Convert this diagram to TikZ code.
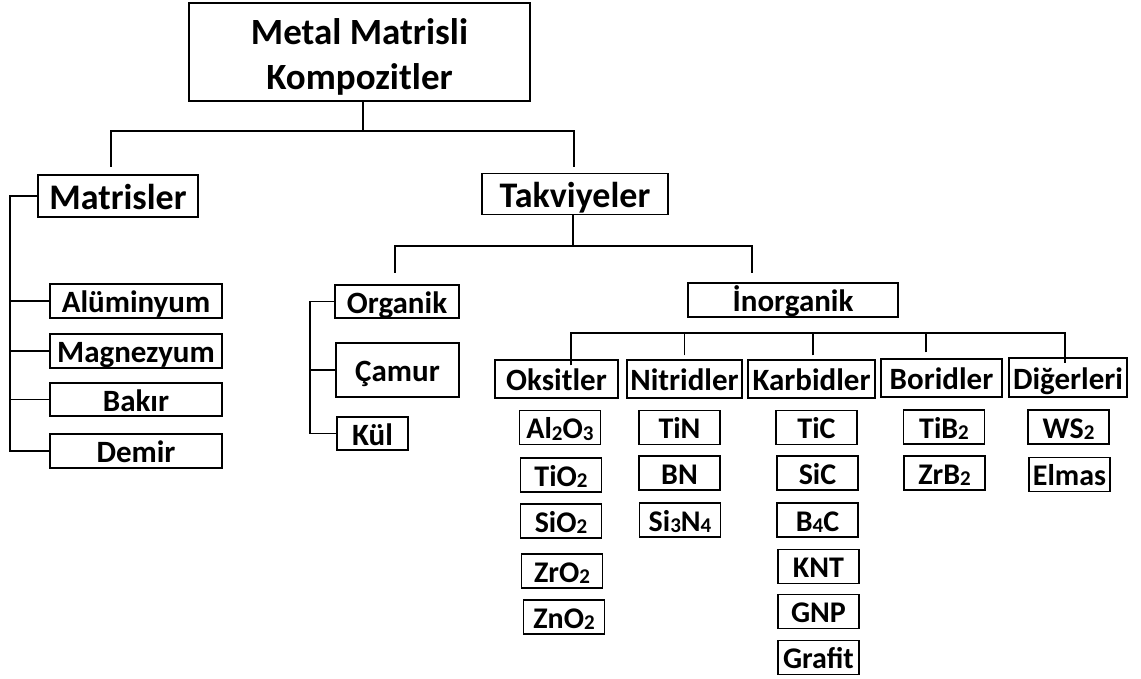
\documentclass[tikz,border=0pt]{standalone}
\usepackage{fontspec}
\setmainfont{Carlito}
\newcommand{\sbs}[1]{\raisebox{-0.1ex}{\fontsize{21}{21}\selectfont #1}}
\begin{document}
\begin{tikzpicture}[x=1pt,y=-1pt,
  box/.style={draw,line width=1.2pt,inner sep=0pt,align=center,text height=23pt,text depth=0pt,font=\bfseries\fontsize{31}{31}\selectfont},
  bigbox/.style={box,text height=27pt,font=\bfseries\fontsize{36}{36}\selectfont},
  item/.style={box,minimum width=81,minimum height=34,text height=22.5pt,font=\bfseries\fontsize{30}{30}\selectfont},
  link/.style={line width=1.3pt}]
\useasboundingbox (0,0) rectangle (1141,679);

% top levels
\node[draw,line width=1.2pt,inner sep=0pt,align=center,font=\bfseries\fontsize{37}{45}\selectfont,
  minimum width=341,minimum height=98] (root) at (359.5,52) {\rule{0pt}{35pt}Metal Matrisli\\Kompozitler};
\node[bigbox,minimum width=160,minimum height=42] (matris) at (118,196) {Matrisler};
\node[bigbox,minimum width=186,minimum height=41] (takv) at (575,194) {Takviyeler};

% matrices
\node[box,minimum width=172,minimum height=34] (alu) at (136,301) {Alüminyum};
\node[box,minimum width=172,minimum height=34] (mag) at (136,351) {Magnezyum};
\node[box,minimum width=172,minimum height=33] (bak) at (136,399.5) {Bakır};
\node[box,minimum width=172,minimum height=34] (dem) at (136,451) {Demir};

% reinforcements
\node[box,minimum width=124,minimum height=33] (org) at (397,301.5) {Organik};
\node[box,minimum width=123,minimum height=54] (camur) at (397.5,370) {Çamur};
\node[box,minimum width=71,minimum height=33] (kul) at (372.5,433.5) {Kül};
\node[box,minimum width=210,minimum height=34] (inorg) at (793,300) {İnorganik};

\node[box,minimum width=123,minimum height=38] (oks) at (556.5,379) {Oksitler};
\node[box,minimum width=115,minimum height=38] (nit) at (684.5,379) {Nitridler};
\node[box,minimum width=127,minimum height=38] (karb) at (811.5,379) {Karbidler};
\node[box,minimum width=121,minimum height=38] (bor) at (941.5,378) {Boridler};
\node[box,minimum width=118,minimum height=39] (dig) at (1068,377.5) {Diğerleri};

\node[item] (alo) at (560,427.5) {Al\sbs{2}O\sbs{3}};
\node[item] (tio) at (561,475) {TiO\sbs{2}};
\node[item] (sio) at (561,521) {SiO\sbs{2}};
\node[item] (zro) at (562,571) {ZrO\sbs{2}};
\node[item] (zno) at (564,617) {ZnO\sbs{2}};

\node[item] (tin) at (679.5,427.5) {TiN};
\node[item] (bn) at (679.5,473) {BN};
\node[item] (sin) at (680,520) {Si\sbs{3}N\sbs{4}};

\node[item] (tic) at (816.5,427.5) {TiC};
\node[item] (sic) at (817.5,473) {SiC};
\node[item] (bc) at (817.5,520) {B\sbs{4}C};
\node[item] (knt) at (818.5,566.5) {KNT};
\node[item] (gnp) at (818.5,611.5) {GNP};
\node[item] (graf) at (818.5,657.5) {Grafit};

\node[item] (tib) at (944,427) {TiB\sbs{2}};
\node[item] (zrb) at (944.5,473) {ZrB\sbs{2}};

\node[item] (ws) at (1068.5,427) {WS\sbs{2}};
\node[item] (elmas) at (1069.5,474.5) {Elmas};

% connectors
\coordinate (bus1) at (363,131);
\coordinate (mdrop) at (111,167);
\coordinate (tdrop) at (574,167);
\draw[link] (root.south -| bus1) -- (bus1);
\draw[link] (mdrop) |- (bus1) -| (tdrop);

\coordinate (mrail) at (10,451);
\draw[link] (matris.west) -| (mrail) -- (dem.west);
\foreach \n in {alu,mag,bak}
  \draw[link] (\n.west) -- (\n.west -| mrail);

\coordinate (bus2) at (573,246);
\coordinate (odrop) at (395,273);
\coordinate (idrop) at (752,273);
\draw[link] (takv.south -| bus2) -- (bus2);
\draw[link] (odrop) |- (bus2) -| (idrop);

\coordinate (orail) at (310,433.5);
\draw[link] (org.west) -| (orail) -- (kul.west);
\draw[link] (camur.west) -- (camur.west -| orail);

\coordinate (bus3l) at (571,333);
\coordinate (bus3r) at (1065,333);
\draw[link] ([yshift=-6]oks.north -| bus3l) -- (bus3l) -- (bus3r) -- ([yshift=-6]dig.north -| bus3r);
\draw[link] (nit.north) ++(0,-4) -- (nit.north |- bus3l);
\draw[link] ([xshift=1.5]karb.north) ++(0,-4) -- ([xshift=1.5]karb.north |- bus3l);
\draw[link] ([xshift=-15.5]bor.north) ++(0,-6) -- ([xshift=-15.5]bor.north |- bus3l);
\end{tikzpicture}
\end{document}
